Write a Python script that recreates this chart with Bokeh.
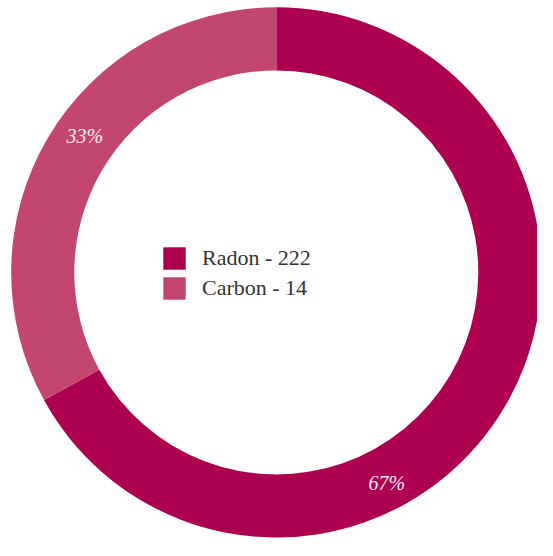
import math
from bokeh.plotting import figure
from bokeh.models import Range1d, Legend, LegendItem, ColumnDataSource
from bokeh.core.properties import value
from bokeh.embed import file_html
from bokeh.resources import INLINE

# data
categories = ["Radon - 222", "Carbon - 14"]
shares = [67, 33]
pct_labels = ["67%", "33%"]
colors = ["#ad004e", "#c2466e"]

W, H = 537, 540
S = W / 553.0
cx, cy = 284 * S, H - 280 * S
R_OUT, R_IN = 273 * S, 208 * S

p = figure(width=W, height=H, output_backend="svg", toolbar_location=None,
           x_range=Range1d(0, W), y_range=Range1d(0, H), min_border=0)
p.axis.visible = False
p.grid.visible = False
p.outline_line_color = None

total = sum(shares)
starts, ends = [], []
a = math.pi / 2
for s in shares:
    starts.append(a)
    a = a - 2 * math.pi * s / total
    ends.append(a)

src = ColumnDataSource(dict(cat=categories, start=starts, end=ends, color=colors))
p.annular_wedge(x=cx, y=cy, inner_radius=R_IN, outer_radius=R_OUT,
                start_angle="start", end_angle="end", direction="clock",
                fill_color="color", line_color=None, source=src)

# legend proxy (square swatches)
leg_src = ColumnDataSource(dict(cat=categories, color=colors))
proxy = p.rect(x=-100, y=-100, width=1, height=1, fill_color="color",
               line_color=None, source=leg_src)

# label placement (style): angle in degrees and radius for each slice label
label_angles = [297.7, 144.6]
label_radii = [238, 235]
lx = [cx + rr * math.cos(math.radians(an)) for rr, an in zip(label_radii, label_angles)]
ly = [cy + rr * math.sin(math.radians(an)) for rr, an in zip(label_radii, label_angles)]
p.text(x=lx, y=ly, text=pct_labels, text_align="center", text_baseline="middle",
       text_font=value("Liberation Serif"), text_font_style="italic",
       text_font_size="20px", text_color="#f8ecf1")

items = [LegendItem(label=c, renderers=[proxy], index=i) for i, c in enumerate(categories)]
legend = Legend(items=items, location=(160, 238), orientation="vertical",
                glyph_width=28, glyph_height=28, spacing=2, padding=0, margin=0,
                label_standoff=14, label_height=28,
                label_text_font="Liberation Serif", label_text_font_size="22px",
                label_text_color="#333333",
                border_line_color=None, background_fill_alpha=0)
p.add_layout(legend, "center")

open("out.html", "w").write(file_html(p, INLINE))
